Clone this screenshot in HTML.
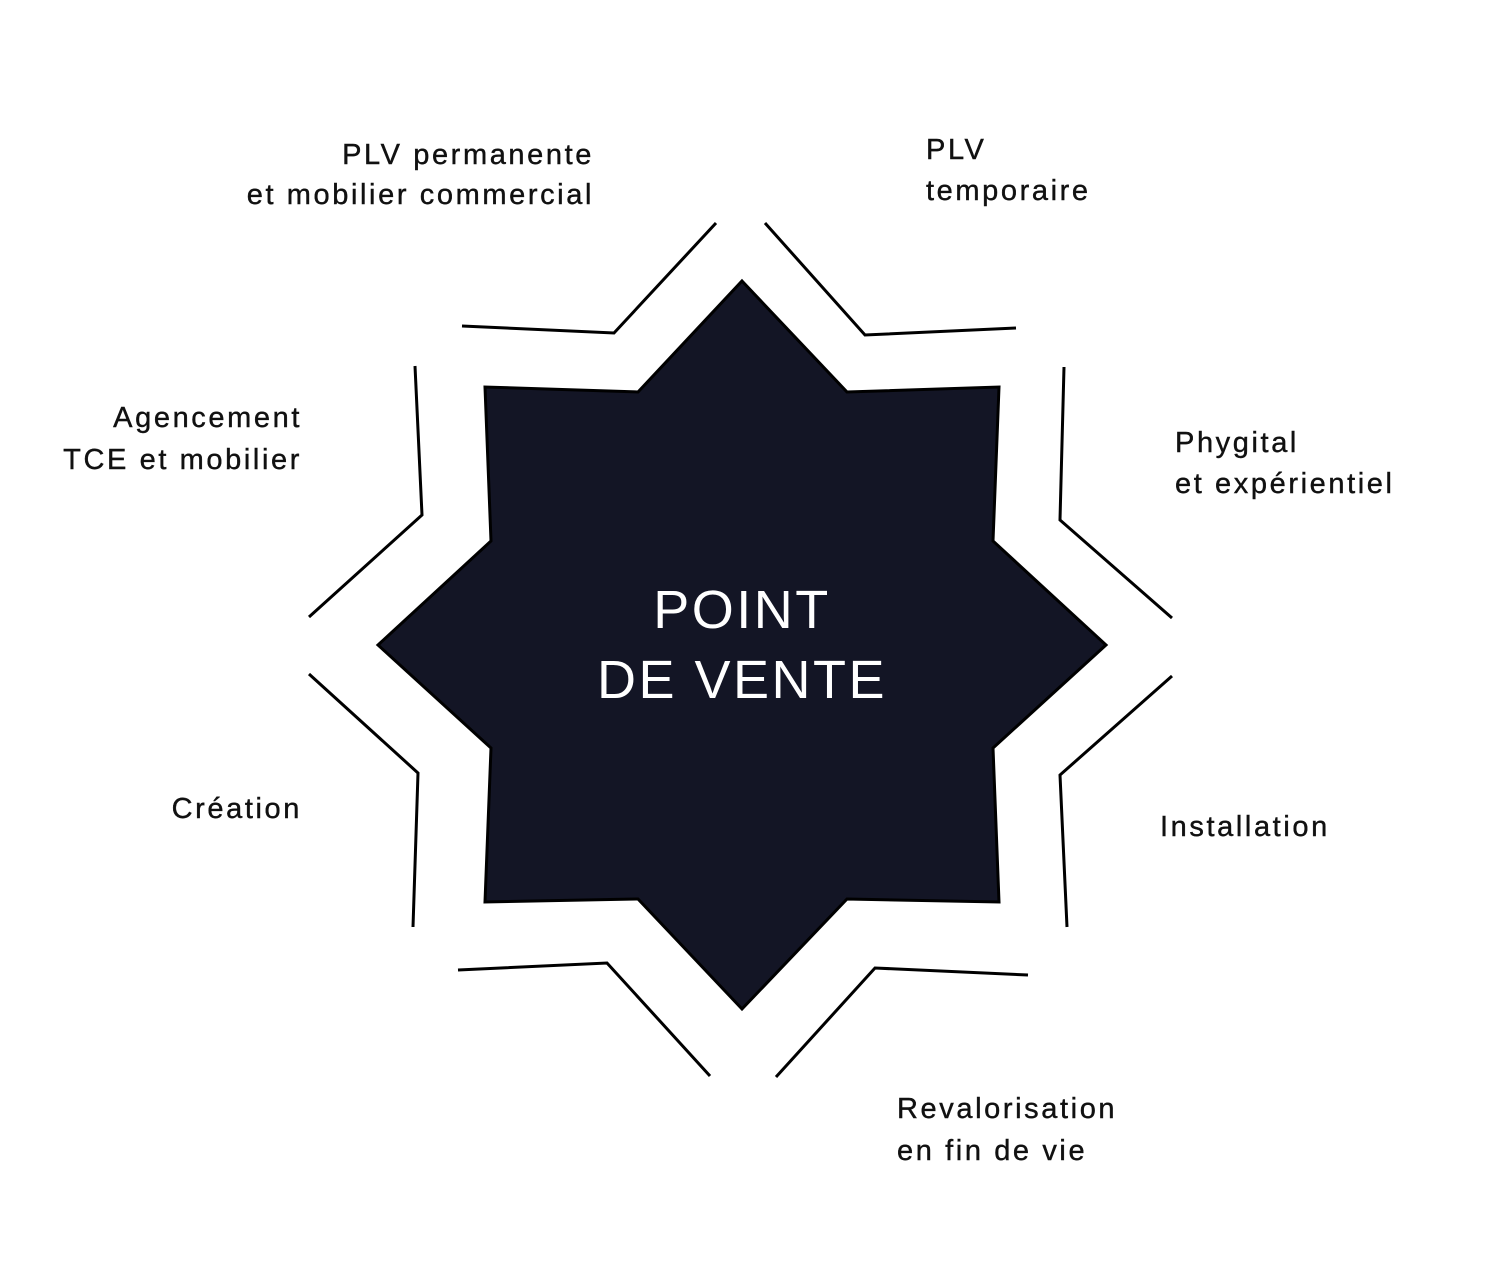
<!DOCTYPE html>
<html><head><meta charset="utf-8"><style>
html,body{margin:0;padding:0;background:#fff;}
svg{display:block;}
text{font-family:"Liberation Sans",sans-serif;fill:#111;font-size:29px;letter-spacing:2.6px;stroke:#111;stroke-width:0.4px;}
</style></head><body>
<svg width="1500" height="1261" viewBox="0 0 1500 1261" xmlns="http://www.w3.org/2000/svg">
<polygon points="742,281 847,392 999,387 993,541 1106,645 993,748 999,902 847,899 742,1009 638,899 485,902 491,748 378,645 491,541 485,387 638,392" fill="#131525" stroke="#000" stroke-width="3"/>
<g fill="none" stroke="#000" stroke-width="3">
<polyline points="716,223 614,333 462,326"/>
<polyline points="765,223 865,335 1016,328"/>
<polyline points="1064,367 1060,520 1172,618"/>
<polyline points="1172,676 1060,775 1067,927"/>
<polyline points="1028,975 875,968 776,1077"/>
<polyline points="458,970 607,963 710,1076"/>
<polyline points="309,674 418,773 413,927"/>
<polyline points="415,366 422,515 309,617"/>
</g>
<text x="742" y="628" text-anchor="middle" style="fill:#fff;stroke:none;font-size:54px;letter-spacing:2.5px">POINT</text>
<text x="742" y="698" text-anchor="middle" style="fill:#fff;stroke:none;font-size:54px;letter-spacing:2.5px">DE VENTE</text>
<text x="594" y="164" text-anchor="end">PLV permanente</text>
<text x="594" y="204" text-anchor="end">et mobilier commercial</text>
<text x="926" y="159">PLV</text>
<text x="926" y="200">temporaire</text>
<text x="302" y="427" text-anchor="end">Agencement</text>
<text x="302" y="469" text-anchor="end">TCE et mobilier</text>
<text x="1175" y="452">Phygital</text>
<text x="1175" y="493">et expérientiel</text>
<text x="302" y="818" text-anchor="end">Création</text>
<text x="1160" y="836">Installation</text>
<text x="897" y="1118">Revalorisation</text>
<text x="897" y="1160">en fin de vie</text>
</svg>
</body></html>
